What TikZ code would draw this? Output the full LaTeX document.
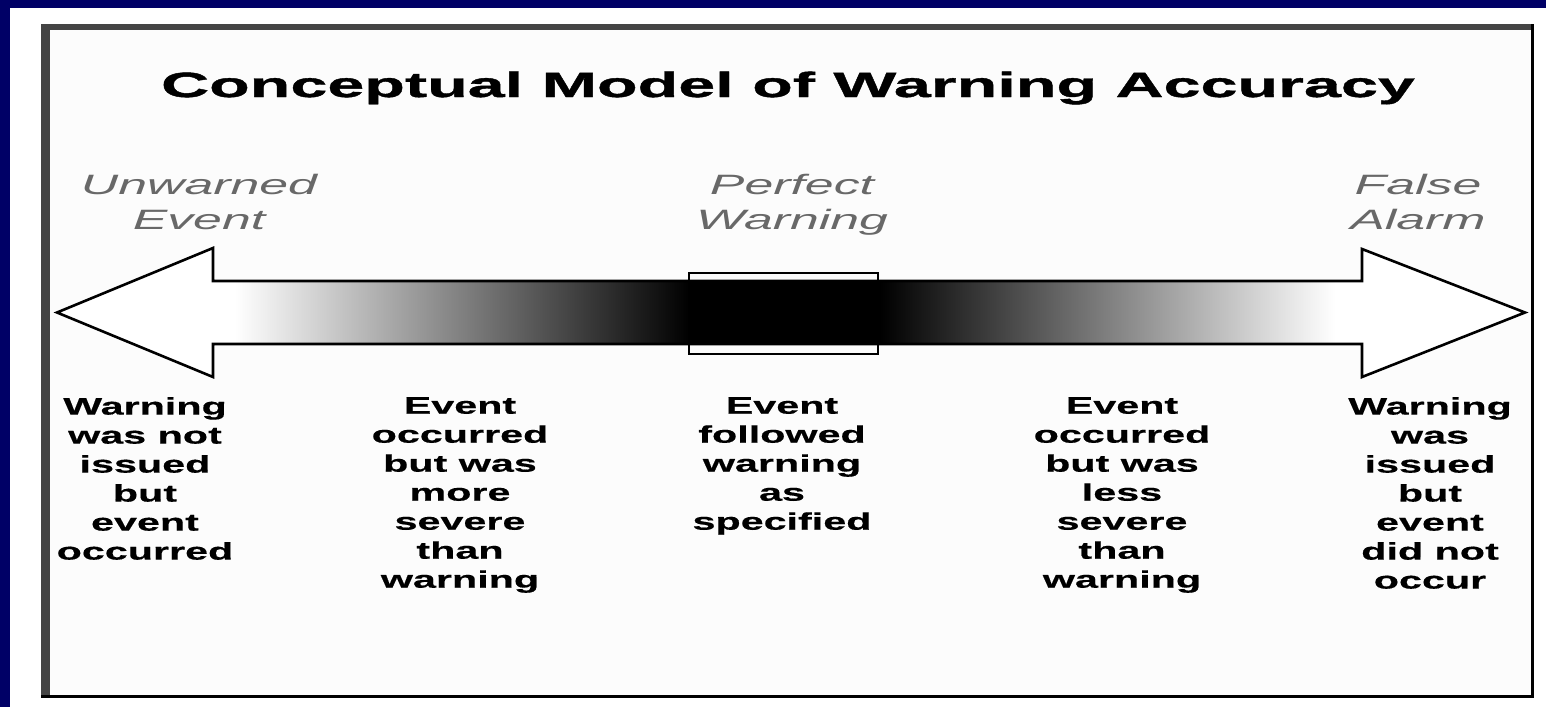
\documentclass[tikz,border=0pt]{standalone}
\usepackage{fontspec}
\setmainfont{Liberation Sans}
% Wide sans faces for the heading, the end labels and the outcome texts
\newfontfamily\titlefont[FakeStretch=1.9, FakeBold=1.2]{Liberation Sans}
\newfontfamily\labelfont[FakeStretch=1.85]{Liberation Sans}
\newfontfamily\bodyfont[FakeStretch=1.72, FakeBold=0.4]{Liberation Sans}

\definecolor{navyband}{RGB}{0,0,102}
\definecolor{framegray}{RGB}{68,68,68}
\definecolor{labelgray}{RGB}{104,104,104}

% Outline of the double-headed accuracy arrow
\newcommand{\warnarrow}{(57,312.5) -- (213,248) -- (213,281) -- (1362,281) -- (1362,249)
  -- (1525,312.5) -- (1362,377) -- (1362,344) -- (213,344) -- (213,377) -- cycle}

\begin{document}
\begin{tikzpicture}[x=1pt,y=-1pt,
  heading/.style={font=\titlefont\bfseries\fontsize{35}{42}\selectfont, inner sep=0pt, anchor=base},
  endlabel/.style={font=\labelfont\itshape\fontsize{28}{35}\selectfont, text=labelgray,
    inner sep=0pt, anchor=north, align=center},
  outcome/.style={font=\bodyfont\bfseries\fontsize{24}{29}\selectfont, inner sep=0pt,
    anchor=north, align=center},
  outline/.style={draw=black, line width=2.6pt, line join=miter}]
\useasboundingbox (0,0) rectangle (1546,707);
\fill[white] (0,0) rectangle (1546,707);

% slide band
\fill[navyband] (0,0) rectangle (10,707);
\fill[navyband] (0,0) rectangle (1546,8);

% frame of the figure
\fill[white!99!black] (41,24) rectangle (1534,698);
\fill[framegray] (41,24) rectangle (50,698);
\fill[framegray] (41,24) rectangle (1534,30);
\fill[black] (1531,24) rectangle (1534,698);
\fill[black] (41,695) rectangle (1534,698);

% heading
\node[heading] (title) at (788,97) {Conceptual Model of Warning Accuracy};

% end and centre labels
\node[endlabel] (unwarned) at (199,174) {Unwarned\\Event};
\node[endlabel] (perfect) at (792,174) {Perfect\\Warning};
\node[endlabel] (falsealarm) at (1418,174) {False\\Alarm};

% the arrow with its dark-in-the-middle shading
\fill[white] \warnarrow;
\shade[left color=white, right color=black] (235,281) rectangle (690,344);
\fill[black] (690,281) rectangle (880,344);
\shade[left color=black, right color=white] (880,281) rectangle (1335,344);
\draw[outline] \warnarrow;

% the perfect-warning window
\draw[outline] (689,273) rectangle (878,354);

% outcome descriptions
\node[outcome] (notissued) at (145,397) {Warning\\was not\\issued\\but\\event\\occurred};
\node[outcome] (moresevere) at (460,397) {Event\\occurred\\but was\\more\\severe\\than\\warning};
\node[outcome] (asspecified) at (782,397) {Event\\followed\\warning\\as\\specified};
\node[outcome] (lesssevere) at (1122,397) {Event\\occurred\\but was\\less\\severe\\than\\warning};
\node[outcome] (nooccur) at (1430,397) {Warning\\was\\issued\\but\\event\\did not\\occur};
\end{tikzpicture}
\end{document}
